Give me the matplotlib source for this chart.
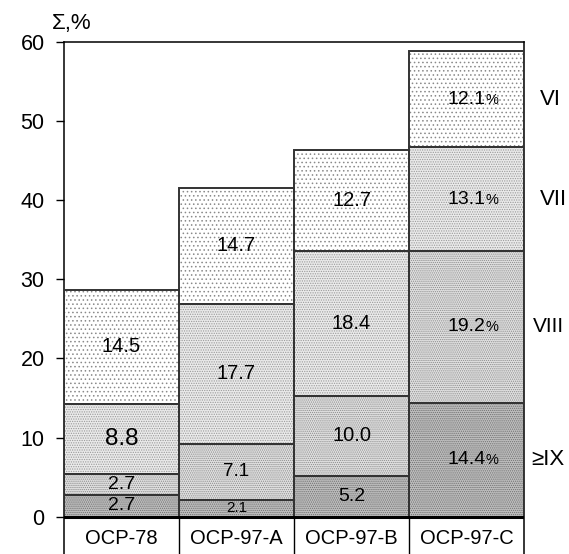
import matplotlib
matplotlib.use("Agg")
import matplotlib.pyplot as plt
import numpy as np

plt.rcParams['font.family'] = ['Liberation Sans', 'DejaVu Sans']
plt.rcParams['hatch.linewidth'] = 0.6

# --- DATA ---
categories = ["OCP-78", "OCP-97-A", "OCP-97-B", "OCP-97-C"]
groups = ["\u2265IX", "VIII", "VII", "VI"]          # bottom -> top
share_ix = [2.7, 2.1, 5.2, 14.4]
share_viii = [2.7, 7.1, 10.0, 19.2]
share_vii = [8.8, 17.7, 18.4, 13.1]
share_vi = [14.5, 14.7, 12.7, 12.1]
segments = [share_ix, share_viii, share_vii, share_vi]

# --- STYLE ---
face = ['#bebebe', '#e0e0e0', '#eaeaea', 'white']
hatch_col = ['#707070', '#8c8c8c', '#9a9a9a', '#8a8a8a']
hatches = ['........', '........', '.......', '....']
# font size of every value label, rows = groups, cols = categories
label_size = [[14, 11, 14, 14],
              [14, 13.5, 14.5, 14],
              [17.5, 14.5, 14.5, 14],
              [14.5, 14.5, 14.5, 14]]
group_x = [1.015, 1.02, 1.035, 1.035]
group_size = [16, 15, 16, 16]

fig = plt.figure(figsize=(5.69, 5.54), dpi=100)
ax = fig.add_axes([64 / 569, 0, 460 / 569, 512 / 554])

x = np.arange(len(categories))
bottom = np.zeros(len(categories))
for k, vals in enumerate(segments):
    vals = np.array(vals)
    ax.bar(x, vals, bottom=bottom, width=1.0, color=face[k], hatch=hatches[k],
           edgecolor=hatch_col[k], linewidth=0, zorder=2)
    ax.bar(x, vals, bottom=bottom, width=1.0, fill=False,
           edgecolor='#333333', linewidth=1.4, zorder=3)
    for i, v in enumerate(vals):
        yc = bottom[i] + v / 2
        ax.text(x[i], yc, f"{v:.1f}", ha='center', va='center',
                fontsize=label_size[k][i], zorder=4)
        if i == len(categories) - 1:
            ax.annotate("%", (x[i], yc), xytext=(13.8, -0.5), textcoords='offset points',
                        ha='left', va='center', fontsize=10.5, zorder=4)
    bottom += vals

# group names to the right of the last bar
last_bottom = 0.0
for k, vals in enumerate(segments):
    yc = last_bottom + vals[-1] / 2
    ax.text(group_x[k], yc, groups[k], transform=ax.get_yaxis_transform(), ha='left',
            va='center', fontsize=group_size[k], clip_on=False)
    last_bottom += vals[-1]

ymin = -4.72
ax.set_xlim(-0.5, len(categories) - 0.5)
ax.set_ylim(ymin, 60)
ax.axhline(0, color='black', linewidth=2.2, zorder=5)

# cell separators under the bars
ax.vlines(x[:-1] + 0.5, ymin, 0, color='black', linewidth=1)
for i, c in enumerate(categories):
    ax.text(x[i], -2.7, c, ha='center', va='center', fontsize=14.5)

ax.set_xticks([])
ax.set_yticks(np.arange(0, 61, 10))
ax.tick_params(axis='y', direction='out', length=6, width=1, pad=8, labelsize=15.5)
ax.spines['bottom'].set_visible(False)
for s in ['left', 'top', 'right']:
    ax.spines[s].set_linewidth(1.1)

fig.text(52 / 569, 1 - 24 / 554, "\u03a3,%", ha='left', va='center', fontsize=16)

fig.savefig("out.png", dpi=100)
